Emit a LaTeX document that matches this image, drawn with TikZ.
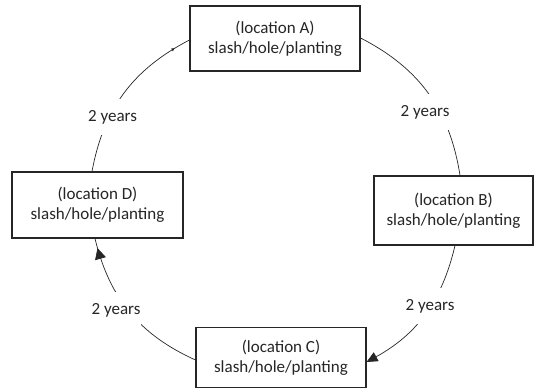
\documentclass[tikz,border=0pt]{standalone}
\usepackage{fontspec}
\setmainfont{Carlito}
\usetikzlibrary{arrows.meta,decorations.markings}
\definecolor{inkc}{HTML}{262626}
\tikzset{
  locbox/.style={draw=inkc, line width=1.1pt, fill=white, align=center, inner sep=0pt,
    font=\fontsize{17}{20}\selectfont, text=inkc},
  yearlbl/.style={fill=white, inner xsep=1pt, inner ysep=11pt, font=\fontsize{17}{20}\selectfont, text=inkc},
  cyc/.style={draw=inkc, line width=0.7pt},
  midarrow/.style 2 args={postaction={decorate}, decoration={markings,
      mark=at position #1 with {\arrow{#2}}}}
}
\begin{document}
\begin{tikzpicture}[x=1pt,y=-1pt]
\useasboundingbox (0,0) rectangle (537,389);
% boxes
\node[locbox, minimum width=170pt, minimum height=65pt] (A) at (275,38.5) {(location A)\\slash/hole/planting};
\node[locbox, minimum width=159pt, minimum height=69pt] (B) at (453.5,210.5) {(location B)\\slash/hole/planting};
\node[locbox, minimum width=170pt, minimum height=60pt] (C) at (281,357.5) {(location C)\\slash/hole/planting};
\node[locbox, minimum width=171pt, minimum height=66pt] (D) at (97.5,205) {(location D)\\slash/hole/planting};
% arcs
\draw[cyc, midarrow={0.9}{Triangle[length=3pt,width=3pt]}]
  ([xshift=-5.5pt]D.north) to[bend left=26] ([yshift=-1.5pt]A.west);
\draw[cyc] ([yshift=0.5pt]A.east) to[bend left=27] ([xshift=6.5pt]B.north);
\draw[cyc, -{Triangle[length=11pt,width=10pt]}]
  ([xshift=1.5pt]B.south) to[bend left=24] ([yshift=-4.5pt]C.east);
\draw[cyc, midarrow={0.94}{Triangle[length=11pt,width=11pt]}]
  ([yshift=-2.5pt]C.west) to[bend left=26] ([xshift=-2.5pt]D.south);
% labels
\node[yearlbl] (l1) at (112.5,117) {2 years};
\node[yearlbl] (l2) at (425,112) {2 years};
\node[yearlbl] (l3) at (430,306) {2 years};
\node[yearlbl] (l4) at (116,310) {2 years};
\end{tikzpicture}
\end{document}
